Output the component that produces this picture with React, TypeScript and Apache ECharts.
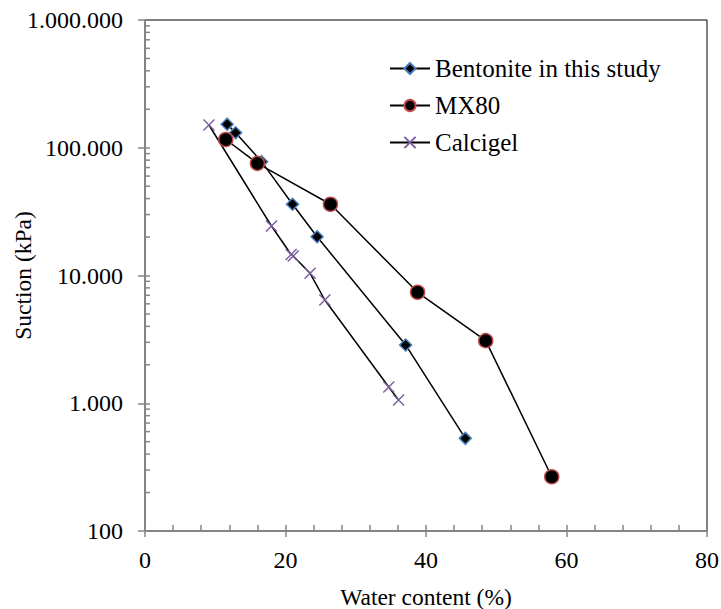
import React, { useEffect, useRef } from "react";
import * as echarts from "echarts";

const waterBentonite = [11.7, 12.9, 16.6, 21.0, 24.5, 37.1, 45.6];
const suctionBentonite = [153000, 131000, 77800, 36100, 20100, 2860, 531];

const waterMX80 = [11.5, 16.0, 26.4, 38.8, 48.5, 57.9];
const suctionMX80 = [116000, 75500, 36100, 7390, 3090, 266];

const waterCalcigel = [9.1, 18.0, 20.8, 21.1, 23.5, 25.6, 34.7, 36.1];
const suctionCalcigel = [150700, 24400, 14600, 14200, 10400, 6430, 1340, 1060];

const yTickValues = [100, 1000, 10000, 100000, 1000000];
const yTickLabels = ["100", "1.000", "10.000", "100.000", "1.000.000"];
const yMinorMultipliers = [2, 3, 4, 5, 6, 7, 8, 9];

const seriesNames = ["Bentonite in this study", "MX80", "Calcigel"];

const FONT = "Liberation Serif";
const AXIS_GREY = "#868686";

function zip(xs: number[], ys: number[]) {
  return xs.map((x, i) => [x, ys[i]]);
}

export default function App() {
  const ref = useRef<HTMLDivElement>(null);

  useEffect(() => {
    if (!ref.current) return;
    const chart = echarts.init(ref.current, undefined, { renderer: "svg" });

    const minorTickData: number[][] = [];
    yTickValues.slice(0, -1).forEach((d) => {
      yMinorMultipliers.forEach((m) => minorTickData.push([0, d * m]));
    });

    const option: any = {
      animation: false,
      backgroundColor: "#fff",
      textStyle: { fontFamily: FONT },
      grid: {
        left: 145,
        right: 14,
        top: 20,
        bottom: 78,
        outerBoundsMode: "none",
        containLabel: false,
        show: true,
        borderColor: "#000",
        borderWidth: 1,
        backgroundColor: "transparent",
      },
      legend: {
        data: seriesNames,
        orient: "vertical",
        left: 389,
        top: 56,
        padding: 0,
        itemWidth: 40,
        itemHeight: 14,
        itemGap: 12,
        textStyle: { fontFamily: FONT, fontSize: 25, color: "#000", lineHeight: 24 },
      },
      xAxis: [
        {
          type: "value",
          min: 0,
          max: 80,
          interval: 20,
          position: "bottom",
          name: "Water content (%)",
          nameLocation: "middle",
          nameGap: 54,
          nameMoveOverlap: false,
          nameTextStyle: { fontFamily: FONT, fontSize: 23.5, color: "#000" },
          axisLine: { show: true, onZero: false, lineStyle: { color: AXIS_GREY, width: 1.5 } },
          axisTick: { show: true, length: 6, lineStyle: { color: AXIS_GREY, width: 1.5 } },
          axisLabel: { fontFamily: FONT, fontSize: 24, color: "#000", margin: 17 },
          splitLine: { show: false },
        },
        {
          type: "value",
          min: 0,
          max: 80,
          interval: 20,
          position: "bottom",
          axisLine: { show: false, onZero: false },
          axisTick: { show: true, inside: true, length: 6, lineStyle: { color: AXIS_GREY, width: 1.5 } },
          minorTick: { show: true, splitNumber: 5, length: 6, lineStyle: { color: AXIS_GREY, width: 1.5 } },
          axisLabel: { show: false },
          splitLine: { show: false },
        },
      ],
      yAxis: [
        {
          type: "log",
          logBase: 10,
          min: 100,
          max: 1000000,
          position: "left",
          name: "Suction (kPa)",
          nameLocation: "middle",
          nameGap: 110,
          nameMoveOverlap: false,
          nameTextStyle: { fontFamily: FONT, fontSize: 23.5, color: "#000" },
          axisLine: { show: true, onZero: false, lineStyle: { color: AXIS_GREY, width: 1.5 } },
          axisTick: { show: true, length: 7, lineStyle: { color: AXIS_GREY, width: 1.5 } },
          axisLabel: {
            fontFamily: FONT,
            fontSize: 24,
            color: "#000",
            margin: 22,
            formatter: (v: number) => {
              const i = yTickValues.findIndex((t) => Math.abs(t - v) / t < 1e-6);
              return i >= 0 ? yTickLabels[i] : "";
            },
          },
          splitLine: { show: false },
        },
        {
          type: "log",
          logBase: 10,
          min: 100,
          max: 1000000,
          position: "left",
          axisLine: { show: false, onZero: false },
          axisTick: { show: true, inside: true, length: 5, lineStyle: { color: AXIS_GREY, width: 1.5 } },
          axisLabel: { show: false },
          splitLine: { show: false },
        },
      ],
      series: [
        {
          name: seriesNames[0],
          type: "line",
          data: zip(waterBentonite, suctionBentonite),
          symbol: "diamond",
          symbolSize: 12,
          lineStyle: { color: "#000", width: 1.5 },
          itemStyle: { color: "#000", borderColor: "#4A7EBB", borderWidth: 1.5 },
          z: 3,
        },
        {
          name: seriesNames[1],
          type: "line",
          data: zip(waterMX80, suctionMX80),
          symbol: "circle",
          symbolSize: 14,
          lineStyle: { color: "#000", width: 1.5 },
          itemStyle: { color: "#000", borderColor: "#BE4B48", borderWidth: 1.5 },
          z: 4,
        },
        {
          name: seriesNames[2],
          type: "line",
          data: zip(waterCalcigel, suctionCalcigel),
          symbol: "path://M0 0L10 10M10 0L0 10",
          symbolSize: 11,
          lineStyle: { color: "#000", width: 1.5 },
          itemStyle: { color: "none", borderColor: "#7D60A0", borderWidth: 1.5 },
          z: 2,
        },
        {
          type: "custom",
          silent: true,
          xAxisIndex: 0,
          yAxisIndex: 0,
          data: minorTickData,
          clip: false,
          z: 1,
          renderItem: (params: any, api: any) => {
            const p = api.coord([0, api.value(1)]);
            return {
              type: "line",
              shape: { x1: p[0], y1: p[1], x2: p[0] + 5, y2: p[1] },
              style: { stroke: AXIS_GREY, lineWidth: 1.5 },
            };
          },
        },
      ],
    };

    chart.setOption(option);
    return () => chart.dispose();
  }, []);

  return (
    <div
      ref={ref}
      style={{ position: "fixed", left: 0, top: 0, width: 721, height: 609 }}
    />
  );
}
